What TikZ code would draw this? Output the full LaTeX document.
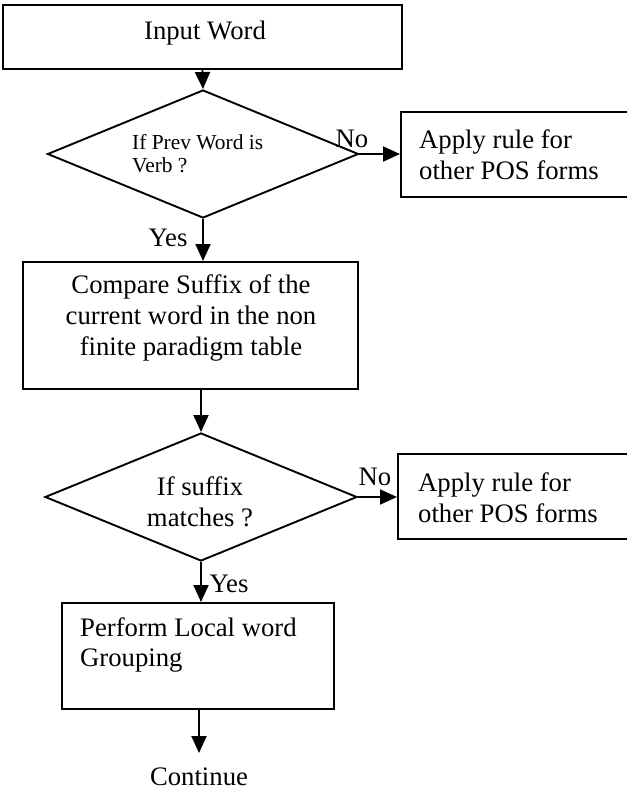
\documentclass[tikz,border=0pt]{standalone}
\usepackage{fontspec}
\setmainfont{Liberation Serif}
\usetikzlibrary{shapes.geometric,arrows.meta}

\tikzset{
  x=1bp, y=-1bp,
  every node/.style={font=\fontsize{26.8}{31}\selectfont},
  procbox/.style={draw, line width=2bp, rectangle, inner sep=0pt},
  decision/.style={draw, line width=1.9bp, diamond, inner sep=0pt},
  flow/.style={line width=1.9bp, -{Triangle[length=17bp,width=15bp]}},
  tag/.style={inner sep=0pt},
  boxtext/.style={inner sep=0pt, align=left},
}

\begin{document}
\begin{tikzpicture}
  \useasboundingbox (0,0) rectangle (627,791);
  \fill[white] (0,0) rectangle (627,791);
  \clip (0,0) rectangle (627,791);

  % start box
  \node[procbox, minimum width=399bp, minimum height=64bp] (in) at (202.5,37) {};
  \node[tag] (inT) at (205,33) {Input Word};

  % first decision
  \node[decision, minimum width=311bp, minimum height=128bp] (d1) at (203,154) {};
  \node[boxtext, font=\fontsize{21.5}{23}\selectfont, anchor=west] (d1T) at (132,154) {If Prev Word is\\Verb ?};

  % branch to other POS forms (top)
  \node[procbox, minimum width=239bp, minimum height=85bp] (b2) at (520.5,154.5) {};
  \node[boxtext, anchor=west] (b2T) at (419,155) {Apply rule for\\other POS forms};

  % suffix comparison
  \node[procbox, minimum width=335bp, minimum height=127bp] (b3) at (190.5,325.5) {};
  \node[boxtext, align=center] (b3T) at (191,318) {Compare Suffix of the\\current word in the non\\finite paradigm table};

  % second decision
  \node[decision, minimum width=312bp, minimum height=128bp] (d2) at (201,497) {};
  \node[boxtext, align=center] (d2T) at (200,502) {If suffix\\matches ?};

  % branch to other POS forms (bottom)
  \node[procbox, minimum width=242bp, minimum height=85bp] (b5) at (519,496.5) {};
  \node[boxtext, anchor=west] (b5T) at (418,498) {Apply rule for\\other POS forms};

  % local word grouping
  \node[procbox, minimum width=272bp, minimum height=106bp] (b4) at (198,656) {};
  \node[boxtext, anchor=west] (b4T) at (80,645) {Perform Local word\\Grouping};

  % end text
  \node[inner xsep=0pt, inner ysep=15bp, anchor=north] (cont) at (199,753) {Continue};

  % connectors
  \draw[flow] (in.south) -- (d1.north);
  \draw[flow] (d1.east) -- (b2.west |- d1.east);
  \draw[flow] (d1.south) -- (d1.south |- b3.north);
  \draw[flow] (d2.north |- b3.south) -- (d2.north);
  \draw[flow] (d2.east) -- (b5.west |- d2.east);
  \draw[flow] (d2.south) -- (d2.south |- b4.north);
  \draw[flow] (b4.south -| cont.north) -- (cont.north);

  % branch labels
  \node[tag] (no1) at (352,139) {No};
  \node[tag] (yes1) at (168,238) {Yes};
  \node[tag] (no2) at (375,477) {No};
  \node[tag] (yes2) at (229,584) {Yes};
\end{tikzpicture}
\end{document}
